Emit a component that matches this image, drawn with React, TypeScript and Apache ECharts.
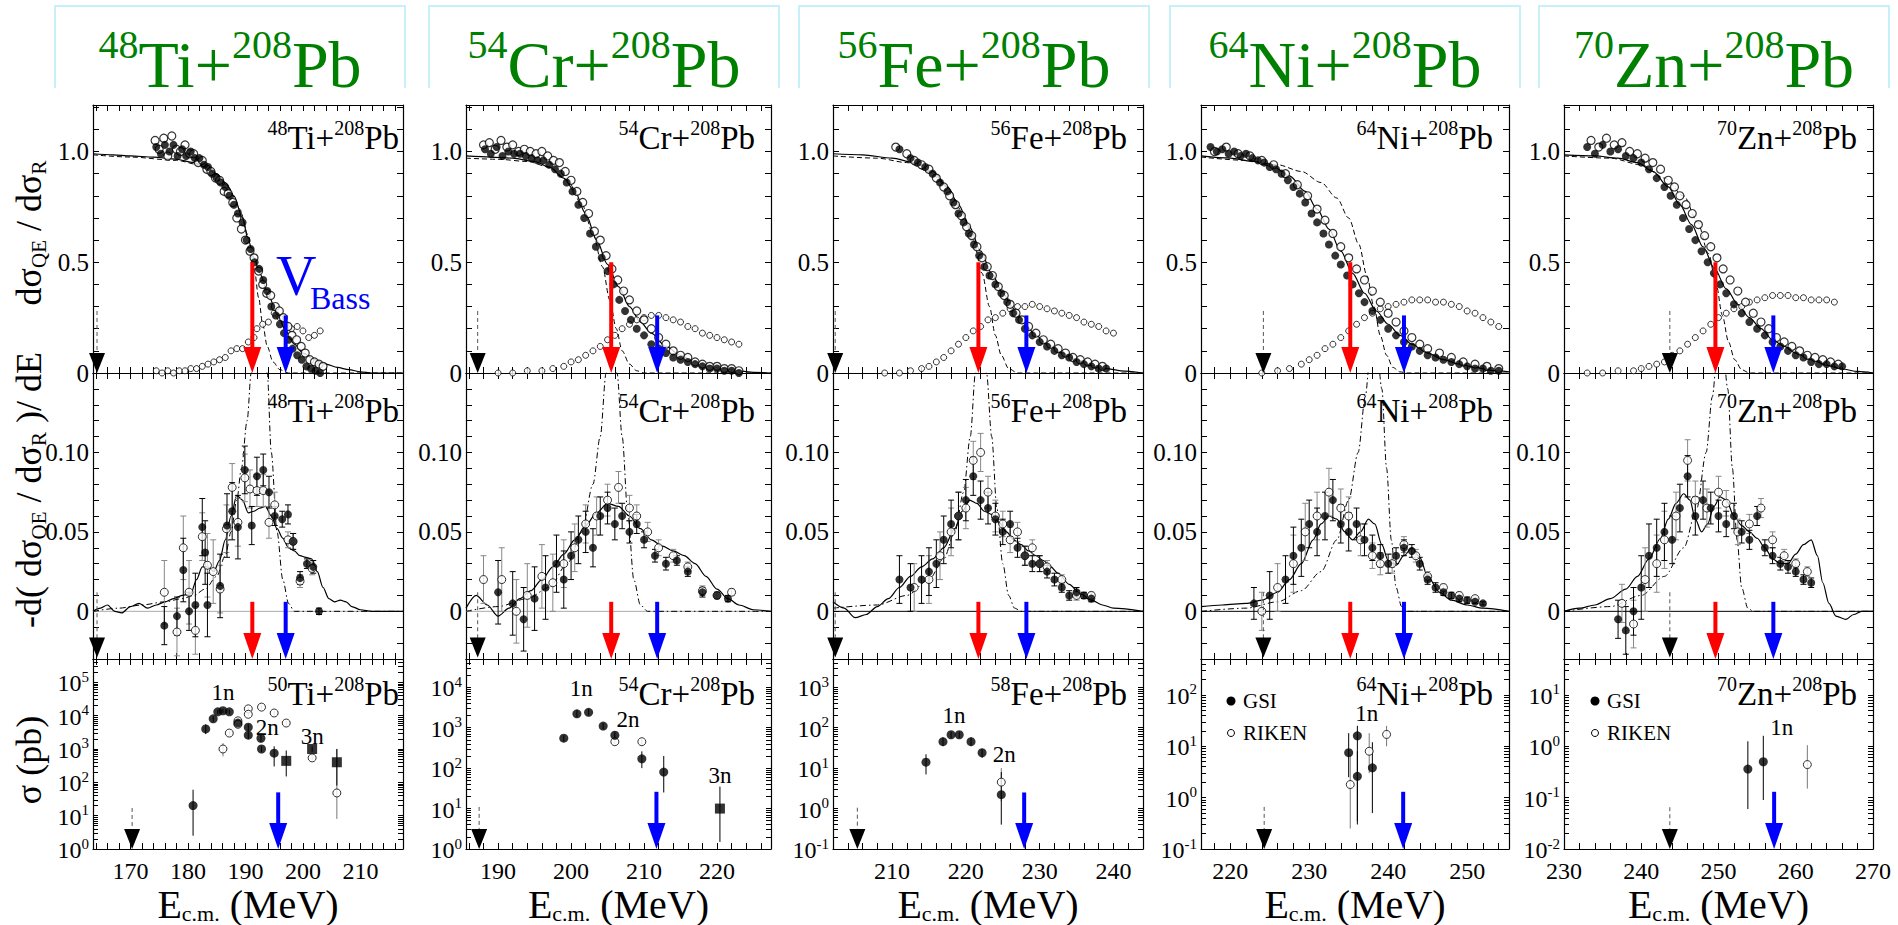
import React, { useEffect, useRef } from 'react';
import * as echarts from 'echarts';

const FONT = 'Liberation Serif';

// ---------- layout ----------
const COL_LEFT = [93, 466, 833, 1201, 1564];
const COL_WIDTH = [310, 305, 310, 308, 309];
const ROW_TOP = [105, 373, 659];
const ROW_BOTTOM = [373, 659, 849];
const HEADER_BOX_LEFT = [55, 429, 799, 1170, 1539];
const HEADER_BOX_WIDTH = 350;

// ---------- axes ----------
const X_MIN = [163.5, 185.6, 202, 216.3, 230];
const X_MAX = [217.4, 227.4, 244, 255.3, 270];
const X_TICK_LABELS = [
  [170, 180, 190, 200, 210],
  [190, 200, 210, 220],
  [210, 220, 230, 240],
  [220, 230, 240, 250],
  [230, 240, 250, 260, 270],
];
const TOP_Y_LABELS = [0, 0.5, 1.0];
const MID_Y_LABELS = [0, 0.05, 0.1];
const XS_MIN = [1, 1, 0.1, 0.1, 0.01];
const XS_MAX = [5e5, 5e4, 5e3, 500, 50];

// ---------- titles ----------
const HEADER_MASS = ['48', '54', '56', '64', '70'];
const HEADER_EL = ['Ti', 'Cr', 'Fe', 'Ni', 'Zn'];
const XS_MASS = ['50', '54', '58', '64', '70'];

// ---------- arrows (energies, MeV) ----------
const RED_ARROW_E = [191.2, 205.5, 221.7, 235.2, 249.6];
const BLUE_ARROW_E = [197.0, 211.8, 228.2, 242.0, 257.1];
const BLUE_ARROW_E_XS = [195.7, 211.7, 227.9, 241.9, 257.2];
const BLUE_ARROW_XS_FROM = [50, 26, 2.5, 1.3, 0.13];
const BLACK_ARROW_E = [164.2, 187.2, 202.3, 224.2, 243.7];
const BLACK_ARROW_E_XS = [170.3, 187.4, 205.3, 224.3, 243.7];
const BLACK_ARROW_XS_FROM = [17, 11, 1.05, 0.66, 0.065];

// ================= 48Ti + 208Pb =================
const TI_TOP_FILLED = [[174.5,1.02],[175.3,0.99],[176,1.03],[176.8,1.0],[177.5,1.03],[178.2,0.98],[179,1.01],[179.7,0.98],[180.5,1.0],[181.2,0.97],[182,0.97],[182.8,0.94],[183.5,0.93],[184.2,0.9],[185,0.88],[185.7,0.86],[186.5,0.84],[187.2,0.8],[188,0.76],[188.7,0.72],[189.5,0.68],[190.2,0.6],[190.9,0.56],[191.6,0.5],[192.4,0.47],[193.1,0.42],[193.8,0.37],[194.5,0.3],[195.3,0.26],[196,0.22],[196.7,0.18],[197.5,0.15],[198.2,0.11],[199,0.08],[199.8,0.06],[200.6,0.03],[201.4,0.02],[202.2,0.01],[203,0.0]];
const TI_TOP_OPEN = [[174.3,1.05],[175,1.01],[175.8,1.06],[176.5,0.98],[177.2,1.07],[178,1.01],[178.7,1.0],[179.5,1.03],[180.3,0.99],[181,0.99],[181.8,0.95],[182.5,0.96],[183.3,0.92],[184,0.91],[184.8,0.88],[185.5,0.87],[186.3,0.82],[187,0.81],[187.8,0.77],[188.5,0.7],[189.3,0.65],[190,0.6],[190.8,0.55],[191.5,0.52],[192.3,0.46],[193,0.4],[193.7,0.36],[194.4,0.35],[195.2,0.3],[195.9,0.28],[196.6,0.25],[197.4,0.21],[198.1,0.17],[198.9,0.15],[199.7,0.12],[200.4,0.09],[201.2,0.06],[202,0.05],[202.8,0.04],[203.5,0.03]];
const TI_TOP_DIST = [[174.5,0.01],[175.5,0.0],[176.5,0.01],[177.5,0.0],[178.5,0.01],[179.5,0.01],[180.5,0.02],[181.5,0.02],[182.5,0.03],[183.5,0.04],[184.5,0.05],[185.5,0.06],[186.5,0.07],[187.5,0.1],[188.5,0.11],[189.5,0.11],[190.5,0.14],[191.5,0.16],[192,0.2],[193,0.22],[194,0.23],[195,0.27],[196,0.25],[197,0.22],[198,0.2],[199,0.21],[200,0.19],[201,0.16],[202,0.17],[203,0.19]];
const TI_TOP_SOLID = [[163.5,0.99],[167,0.985],[170,0.98],[174,0.975],[178,0.965],[181,0.95],[183,0.93],[185,0.9],[186.5,0.86],[188,0.8],[189.5,0.7],[190.5,0.6],[191.5,0.52],[192.5,0.45],[194,0.35],[195.5,0.27],[197,0.19],[198.5,0.13],[200,0.09],[202,0.06],[204,0.04],[206,0.025],[208,0.015],[210,0.005],[212,0.0],[217.4,0.0]];
const TI_TOP_DASH = [[163.5,0.985],[170,0.975],[178,0.96],[182,0.94],[185,0.9],[187,0.84],[189,0.74],[190.5,0.62],[191.5,0.48],[192.3,0.34],[193,0.22],[193.8,0.12],[194.8,0.05],[196,0.015],[197.5,0.0],[217.4,0.0]];
const TI_MID_FILLED = [[175.9,-0.009,0.012],[178.1,-0.003,0.012],[179.2,0.026,0.02],[180.2,0.0,0.012],[181.3,0.004,0.02],[182.5,0.053,0.018],[183,0.037,0.02],[183.4,0.004,0.02],[185.6,0.016,0.02],[186.8,0.054,0.02],[187.7,0.063,0.018],[188.7,0.053,0.02],[189.9,0.089,0.015],[191.1,0.054,0.012],[192,0.085,0.012],[193.1,0.089,0.01],[194.1,0.075,0.01],[195.1,0.06,0.006],[196.4,0.058,0.005],[197.4,0.061,0.006],[198.3,0.044,0.005],[199.5,0.021,0.004],[200.7,0.03,0.003],[201.8,0.028,0.004],[202.8,0.0,0.002]];
const TI_MID_OPEN = [[175.9,0.012,0.02],[178.1,-0.013,0.015],[179.2,0.04,0.02],[180.2,0.012,0.02],[181.3,-0.012,0.015],[182.5,0.047,0.015],[183.4,0.029,0.02],[184.4,0.025,0.02],[185.6,0.014,0.015],[186.7,0.052,0.015],[187.7,0.078,0.015],[188.7,0.056,0.015],[189.9,0.084,0.015],[190.8,0.077,0.012],[192,0.076,0.01],[193.1,0.076,0.01],[194.1,0.056,0.01],[195.1,0.067,0.008],[197.4,0.045,0.005],[198.3,0.044,0.005],[199.5,0.019,0.004],[201.6,0.027,0.004]];
const TI_MID_SOLID = [[163.5,0.0],[164.8,0.002],[166,0.004],[167.3,0.0],[168.5,-0.001],[170,0.003],[171.5,0.005],[173,0.002],[174.5,0.004],[176,0.006],[177.5,0.008],[179,0.01],[180.5,0.011],[181.5,0.02],[182.5,0.028],[183.5,0.028],[184.5,0.025],[185.5,0.032],[186.5,0.045],[187.5,0.06],[188.5,0.073],[189.5,0.07],[190.5,0.062],[191.5,0.063],[192.5,0.065],[193.5,0.066],[194.5,0.06],[195.5,0.052],[196.5,0.046],[197.5,0.04],[198.5,0.038],[199.5,0.035],[200.5,0.034],[201.5,0.033],[202.5,0.025],[203.5,0.015],[204.5,0.008],[205.5,0.006],[206.5,0.007],[207.5,0.006],[208.5,0.003],[210,0.001],[212,0.0],[217.4,0.0]];
const TI_MID_DASH = [[163.5,0.0],[168,0.002],[172,0.004],[176,0.006],[179,0.008],[181,0.01],[183,0.014],[185,0.022],[186.5,0.035],[187.5,0.05],[188.5,0.07],[189.3,0.09],[190.3,0.12],[191,0.15],[192.3,0.2],[193.8,0.15],[194.5,0.1],[195.5,0.05],[196.5,0.02],[197.5,0.005],[198.5,0.0],[217.4,0.0]];
const TI_XS_FILLED = [[180.9,20,2.5,60],[183.1,4000,2800,5500],[184.4,8000,6500,9500],[185.2,13000,11000,15000],[186.1,14000,12000,16000],[187.2,13000,11000,15000],[188.7,6000,5000,7000],[190.5,4500,3500,5500],[190.5,2600,2000,3200],[192.7,2100,1600,2700],[192.8,1000,800,1200],[195,750,300,1200]];
const TI_XS_SQUARE = [[197.1,440,150,900],[201.6,1000,800,1200],[205.9,400,80,1000]];
const TI_XS_OPEN = [[186.1,1000,600,1500],[187.2,3000,2500,3500],[188.7,7000,6000,8000],[188.7,5500,5000,6000],[190.5,16000,14000,18000],[190.5,11000,10000,12000],[192.8,18000,16000,20000],[195,12000,10000,14000],[197.1,6000,5000,7000],[201.6,540,450,650],[205.9,48,8,1000]];
const TI_XS_LABELS = [[186.1, 50000, '1n'], [193.8, 4300, '2n'], [201.6, 2300, '3n']];

// ================= 54Cr + 208Pb =================
const CR_TOP_FILLED = [[188.2,1.01],[189,0.99],[189.8,1.02],[190.6,0.98],[191.4,1.0],[192.2,0.99],[193,0.99],[193.8,0.98],[194.6,0.97],[195.4,0.96],[196.2,0.96],[197,0.94],[197.8,0.92],[198.6,0.9],[199.4,0.86],[200.2,0.82],[201,0.76],[201.8,0.7],[202.6,0.63],[203.4,0.57],[204.2,0.52],[205,0.46],[205.8,0.4],[206.6,0.33],[207.4,0.28],[208.2,0.24],[209,0.2],[210,0.17],[211,0.13],[212,0.11],[213,0.09],[214,0.07],[215,0.06],[216,0.05],[217,0.04],[218,0.03],[219,0.02],[220,0.02],[221,0.01],[222,0.01],[223,0.0]];
const CR_TOP_OPEN = [[188,1.03],[188.8,1.04],[189.6,1.01],[190.4,1.05],[191.2,1.02],[192,1.03],[192.8,1.0],[193.6,1.01],[194.4,1.0],[195.2,0.99],[196,1.0],[196.8,0.98],[197.6,0.96],[198.4,0.95],[199.2,0.91],[200,0.87],[200.8,0.82],[201.6,0.77],[202.4,0.72],[203.2,0.64],[204,0.6],[204.8,0.53],[205.6,0.47],[206.4,0.42],[207.2,0.37],[208,0.33],[209,0.28],[210,0.24],[211,0.2],[212,0.16],[213,0.13],[214,0.1],[215,0.08],[216,0.07],[217,0.05],[218,0.04],[219,0.03],[220,0.03],[221,0.02],[222,0.02],[223,0.01]];
const CR_TOP_DIST = [[190,0.0],[192,0.0],[194,0.01],[196,0.01],[197.5,0.02],[199,0.03],[200,0.05],[201,0.06],[202,0.08],[203,0.1],[204,0.12],[205,0.15],[206,0.17],[207,0.2],[208,0.22],[209,0.24],[210,0.25],[211,0.26],[212,0.26],[213,0.25],[214,0.24],[215,0.23],[216,0.21],[217,0.2],[218,0.18],[219,0.17],[220,0.16],[221,0.15],[222,0.14],[223,0.13]];
const CR_TOP_SOLID = [[185.6,0.98],[189,0.975],[192,0.97],[195,0.955],[197,0.93],[199,0.88],[200.5,0.82],[202,0.72],[203.5,0.6],[205,0.49],[206.5,0.39],[208,0.3],[209.5,0.23],[211,0.18],[213,0.12],[215,0.08],[217,0.05],[219,0.03],[221,0.02],[223,0.01],[225,0.003],[227.4,0.0]];
const CR_TOP_DASH = [[185.6,0.97],[190,0.965],[194,0.955],[197,0.93],[199.5,0.87],[201.5,0.76],[203,0.63],[204.3,0.48],[205.3,0.33],[206.2,0.2],[207,0.1],[208,0.04],[209,0.01],[210,0.0],[227.4,0.0]];
const CR_MID_FILLED = [[190,0.012,0.02],[192,0.005,0.02],[193.5,-0.005,0.02],[195,0.008,0.02],[196.5,0.015,0.02],[198,0.03,0.018],[199,0.02,0.018],[200,0.035,0.015],[201,0.045,0.015],[202,0.05,0.013],[203,0.04,0.012],[204,0.06,0.012],[205,0.065,0.01],[206,0.055,0.01],[207,0.06,0.008],[208,0.05,0.007],[209,0.055,0.006],[210,0.045,0.005],[211.5,0.035,0.004],[213,0.03,0.004],[214.5,0.032,0.003],[216,0.025,0.003],[218,0.012,0.003],[220,0.01,0.002],[221.5,0.008,0.002]];
const CR_MID_OPEN = [[188,0.02,0.015],[190.5,0.02,0.02],[192.5,0.0,0.02],[194,0.01,0.02],[196,0.022,0.02],[197.5,0.018,0.018],[199,0.03,0.015],[200.5,0.04,0.015],[202,0.055,0.012],[203.5,0.06,0.012],[205,0.07,0.01],[206.5,0.078,0.01],[208,0.065,0.008],[209,0.06,0.007],[210.5,0.05,0.006],[212,0.04,0.005],[214,0.035,0.004],[216,0.028,0.003],[218,0.013,0.003],[220,0.01,0.002],[222,0.012,0.002]];
const CR_MID_SOLID = [[185.6,0.002],[187,0.01],[188.5,0.004],[190,-0.003],[191.5,0.002],[193,0.008],[194.5,0.013],[196,0.02],[197.5,0.028],[199,0.036],[200.5,0.045],[202,0.054],[203.5,0.062],[205,0.068],[206.5,0.066],[208,0.06],[209.5,0.052],[211,0.045],[212.5,0.041],[214,0.038],[215.5,0.035],[217,0.03],[218.5,0.022],[220,0.014],[221.5,0.008],[223,0.004],[225,0.001],[227.4,0.0]];
const CR_MID_DASH = [[185.6,0.0],[190,0.003],[194,0.008],[197,0.015],[199.5,0.03],[201.5,0.05],[203,0.08],[204,0.11],[204.8,0.15],[205.5,0.17],[206.3,0.15],[207,0.11],[207.8,0.06],[208.6,0.02],[209.5,0.004],[210.5,0.0],[227.4,0.0]];
const CR_XS_FILLED = [[199.0,550,450,650],[200.8,2200,1800,2700],[202.4,2400,2000,2900],[204.4,1100,900,1300],[206,650,500,800],[209.7,170,100,260],[212.7,80,25,200]];
const CR_XS_SQUARE = [[220.4,10,1.5,35]];
const CR_XS_OPEN = [[206,450,380,520],[209.7,450,380,520]];
const CR_XS_LABELS = [[201.4, 9300, '1n'], [207.8, 1600, '2n'], [220.4, 66, '3n']];

// ================= 56Fe + 208Pb =================
const FE_TOP_FILLED = [[211,1.01],[212.5,0.97],[213.5,0.95],[214.5,0.93],[215.5,0.9],[216.5,0.86],[217.5,0.82],[218.3,0.77],[219,0.72],[219.7,0.68],[220.4,0.63],[221.1,0.58],[221.8,0.53],[222.5,0.48],[223.2,0.44],[224,0.4],[224.8,0.36],[225.6,0.32],[226.4,0.27],[227.2,0.24],[228,0.2],[229,0.17],[230,0.14],[231,0.12],[232,0.1],[233,0.08],[234,0.07],[235,0.05],[236,0.04],[237,0.03],[238,0.02],[239,0.02]];
const FE_TOP_OPEN = [[210.5,1.02],[212,0.99],[213,0.96],[214,0.94],[215,0.92],[216,0.88],[217,0.84],[217.8,0.8],[218.6,0.76],[219.4,0.71],[220.1,0.66],[220.8,0.62],[221.5,0.57],[222.2,0.52],[222.9,0.48],[223.6,0.44],[224.4,0.39],[225.2,0.35],[226,0.31],[226.8,0.27],[227.6,0.24],[228.5,0.21],[229.5,0.18],[230.5,0.15],[231.5,0.13],[232.5,0.11],[233.5,0.09],[234.5,0.07],[235.5,0.06],[236.5,0.05],[237.5,0.04],[238.5,0.03]];
const FE_TOP_DIST = [[209,0.0],[211,0.0],[212.5,0.01],[214,0.02],[215,0.03],[216,0.05],[217,0.07],[218,0.1],[219,0.13],[220,0.16],[221,0.19],[222,0.21],[223,0.24],[224,0.25],[225,0.27],[226,0.29],[227,0.3],[228,0.3],[229,0.31],[230,0.3],[231,0.29],[232,0.28],[233,0.27],[234,0.26],[235,0.25],[236,0.23],[237,0.22],[238,0.21],[239,0.19],[240,0.18]];
const FE_TOP_SOLID = [[202,0.99],[206,0.985],[210,0.97],[213,0.95],[215.5,0.91],[217.5,0.84],[219,0.76],[220.5,0.66],[222,0.55],[223.5,0.45],[225,0.36],[226.5,0.29],[228,0.22],[229.5,0.17],[231,0.13],[233,0.09],[235,0.06],[237,0.035],[239,0.02],[241,0.01],[244,0.0]];
const FE_TOP_DASH = [[202,0.98],[208,0.97],[212,0.95],[215,0.91],[217.5,0.84],[219.5,0.73],[221,0.6],[222.2,0.45],[223.2,0.3],[224,0.17],[224.8,0.08],[225.8,0.02],[227,0.0],[244,0.0]];
const FE_MID_FILLED = [[211,0.02,0.015],[212.5,0.015,0.015],[214,0.02,0.015],[215,0.025,0.015],[216,0.03,0.015],[217,0.045,0.015],[218,0.055,0.015],[219,0.06,0.015],[220,0.07,0.013],[221,0.085,0.012],[222,0.07,0.012],[223,0.065,0.01],[224,0.058,0.01],[225,0.05,0.008],[226,0.055,0.008],[227,0.04,0.006],[228,0.035,0.006],[229,0.03,0.005],[230,0.03,0.005],[231,0.025,0.004],[232,0.02,0.004],[233,0.015,0.003],[234,0.01,0.003],[235,0.012,0.003],[236,0.01,0.002],[237,0.008,0.002]];
const FE_MID_OPEN = [[213,0.015,0.015],[215,0.02,0.015],[216.5,0.035,0.015],[218,0.05,0.015],[219,0.06,0.015],[220,0.065,0.013],[221,0.095,0.012],[222,0.1,0.012],[223,0.075,0.01],[224,0.06,0.01],[225,0.055,0.008],[226,0.045,0.008],[227,0.05,0.006],[228,0.035,0.006],[229,0.04,0.005],[230,0.03,0.005],[231,0.028,0.004],[233,0.02,0.003],[235,0.01,0.003],[237,0.01,0.002]];
const FE_MID_SOLID = [[202,0.006],[203.5,0.002],[205,-0.004],[206.5,-0.002],[208,0.003],[209.5,0.008],[211,0.015],[212.5,0.022],[214,0.028],[215.5,0.033],[217,0.04],[218.5,0.052],[219.5,0.063],[220.5,0.07],[221.5,0.068],[222.5,0.063],[223.5,0.061],[224.5,0.056],[225.5,0.05],[226.5,0.045],[227.5,0.042],[228.5,0.038],[229.5,0.035],[230.5,0.032],[231.5,0.028],[232.5,0.024],[234,0.017],[235.5,0.011],[237,0.007],[238.5,0.004],[240,0.002],[244,0.0]];
const FE_MID_DASH = [[202,0.002],[208,0.004],[212,0.01],[215,0.02],[217,0.033],[218.5,0.05],[219.7,0.075],[220.6,0.11],[221.3,0.15],[222,0.17],[222.8,0.15],[223.5,0.11],[224.2,0.065],[225,0.03],[225.8,0.01],[226.6,0.002],[227.5,0.0],[244,0.0]];
const FE_XS_FILLED = [[214.6,14,7,22],[216.9,45,35,58],[218,67,55,80],[219.1,67,55,80],[220.7,45,35,58],[222.2,24,18,30],[224.8,2.2,0.4,8]];
const FE_XS_SQUARE = [];
const FE_XS_OPEN = [[224.8,4.5,1.5,10]];
const FE_XS_LABELS = [[218.4, 200, '1n'], [225.2, 22, '2n']];

// ================= 64Ni + 208Pb =================
const NI_TOP_FILLED = [[217.5,1.02],[218.3,1.0],[219,1.01],[219.8,0.99],[220.5,1.0],[221.3,0.98],[222,0.99],[222.8,0.97],[223.5,0.96],[224.3,0.95],[225,0.93],[225.8,0.92],[226.5,0.9],[227.3,0.87],[228,0.84],[228.8,0.81],[229.5,0.77],[230.3,0.72],[231,0.68],[231.8,0.63],[232.5,0.58],[233.3,0.53],[234,0.49],[234.8,0.44],[235.5,0.4],[236.3,0.36],[237,0.32],[238,0.28],[239,0.24],[240,0.2],[241,0.17],[242,0.14],[243,0.12],[244,0.1],[245,0.08],[246,0.07],[247,0.06],[248,0.05],[249,0.04],[250,0.03],[251,0.02],[252,0.02],[253,0.01],[254,0.01]];
const NI_TOP_OPEN = [[218,1.0],[219.5,1.02],[221,0.99],[222.5,0.98],[224,0.96],[225.5,0.94],[227,0.9],[228.5,0.85],[229.8,0.8],[231,0.74],[232,0.69],[233,0.63],[234,0.57],[235,0.52],[236,0.47],[237,0.42],[238,0.37],[239,0.32],[240,0.27],[241,0.23],[242,0.19],[243,0.16],[244,0.13],[245,0.11],[246.5,0.09],[248,0.07],[249.5,0.05],[251,0.04],[252.5,0.03],[254,0.02]];
const NI_TOP_DIST = [[224,0.0],[226,0.01],[227.5,0.02],[229,0.04],[230,0.06],[231,0.08],[232,0.11],[233,0.13],[234,0.16],[235,0.19],[236,0.22],[237,0.25],[238,0.27],[239,0.29],[240,0.3],[241,0.31],[242,0.32],[243,0.33],[244,0.33],[245,0.33],[246,0.32],[247,0.32],[248,0.31],[249,0.3],[250,0.28],[251,0.27],[252,0.25],[253,0.23],[254,0.21]];
const NI_TOP_SOLID = [[216.3,0.98],[220,0.97],[223,0.955],[225.5,0.93],[227.5,0.89],[229.5,0.82],[231,0.74],[232.5,0.65],[234,0.55],[235.5,0.45],[237,0.36],[238.5,0.28],[240,0.22],[241.5,0.17],[243,0.13],[245,0.09],[247,0.06],[249,0.04],[251,0.025],[253,0.012],[255.3,0.005]];
const NI_TOP_DASH = [[216.3,0.975],[222,0.96],[226,0.94],[229,0.91],[231.5,0.86],[233.5,0.79],[235,0.7],[236.3,0.58],[237.3,0.44],[238.2,0.3],[239,0.17],[239.8,0.08],[240.6,0.025],[241.5,0.005],[242.5,0.0],[255.3,0.0]];
const NI_MID_FILLED = [[223,0.005,0.01],[225,0.01,0.015],[227,0.02,0.015],[228,0.035,0.018],[229,0.04,0.018],[230,0.055,0.015],[231,0.05,0.015],[232,0.06,0.015],[233,0.07,0.013],[234,0.055,0.012],[235,0.05,0.012],[236,0.055,0.01],[237,0.045,0.01],[238,0.04,0.008],[239,0.035,0.007],[240,0.03,0.006],[241,0.035,0.005],[242,0.04,0.005],[243,0.038,0.004],[244,0.03,0.004],[245,0.02,0.003],[246,0.015,0.003],[247,0.012,0.002],[248,0.01,0.002],[249,0.008,0.002],[250,0.007,0.002],[251,0.006,0.001],[252,0.005,0.001]];
const NI_MID_OPEN = [[224,0.0,0.012],[226,0.015,0.015],[228,0.03,0.018],[229.5,0.05,0.018],[231,0.06,0.015],[232.5,0.075,0.015],[234,0.065,0.012],[235,0.06,0.012],[236.5,0.045,0.01],[238,0.035,0.008],[239,0.03,0.007],[240.5,0.03,0.006],[242,0.042,0.005],[243.5,0.035,0.004],[245,0.022,0.003],[247,0.015,0.002],[249,0.01,0.002],[251,0.008,0.001]];
const NI_MID_SOLID = [[216.3,0.003],[219,0.004],[222,0.005],[224,0.007],[226,0.012],[227.5,0.02],[229,0.03],[230.5,0.045],[231.5,0.055],[232.5,0.06],[233.5,0.058],[234.5,0.05],[235.5,0.045],[236.5,0.05],[237.5,0.058],[238.3,0.055],[239.2,0.042],[240,0.032],[241,0.029],[242,0.035],[243,0.04],[244,0.034],[245,0.022],[246.5,0.012],[248,0.007],[250,0.004],[252,0.002],[255.3,0.0]];
const NI_MID_DASH = [[216.3,0.0],[222,0.002],[226,0.006],[229,0.013],[231.5,0.025],[233.5,0.045],[235,0.07],[236.2,0.1],[237.1,0.135],[237.7,0.16],[238.5,0.17],[239.2,0.14],[239.8,0.09],[240.4,0.045],[241,0.015],[241.7,0.003],[242.5,0.0],[255.3,0.0]];
const NI_XS_FILLED = [[235,7.5,2.5,18],[236.1,16,0.35,25],[236.1,2.6,0.3,8],[238,3.8,0.5,12]];
const NI_XS_SQUARE = [];
const NI_XS_OPEN = [[235.2,1.8,0.25,7],[237.6,8,3,18],[239.8,17,10,25]];
const NI_XS_LABELS = [[237.3, 44, '1n']];

// ================= 70Zn + 208Pb =================
const ZN_TOP_FILLED = [[233,1.02],[234,0.99],[235,1.03],[236,1.0],[237,1.01],[238,0.98],[239,0.97],[240,0.95],[241,0.92],[242,0.88],[243,0.84],[243.8,0.8],[244.6,0.76],[245.4,0.7],[246.2,0.65],[247,0.6],[247.8,0.55],[248.6,0.5],[249.4,0.45],[250.2,0.4],[251,0.36],[252,0.31],[253,0.27],[254,0.23],[255,0.2],[256,0.17],[257,0.14],[258,0.12],[259,0.1],[260,0.08],[261,0.07],[262,0.05],[263,0.04],[264,0.04],[265,0.03],[266,0.03]];
const ZN_TOP_OPEN = [[233.5,1.05],[234.5,1.02],[235.5,1.06],[236.5,1.03],[237.5,1.04],[238.5,1.0],[239.5,0.99],[240.5,0.97],[241.5,0.95],[242.5,0.92],[243.5,0.87],[244.3,0.84],[245,0.8],[245.8,0.76],[246.6,0.72],[247.4,0.67],[248.2,0.62],[249,0.57],[249.8,0.52],[250.6,0.47],[251.5,0.42],[252.5,0.37],[253.5,0.32],[254.5,0.27],[255.5,0.23],[256.5,0.2],[257.5,0.16],[258.5,0.14],[259.5,0.12],[260.5,0.1],[261.5,0.08],[262.5,0.07],[263.5,0.06],[264.5,0.05],[265.5,0.04]];
const ZN_TOP_DIST = [[233,0.0],[235,0.0],[237,0.01],[239,0.01],[240,0.02],[241,0.03],[242,0.04],[243,0.05],[244,0.08],[245,0.1],[246,0.13],[247,0.16],[248,0.19],[249,0.22],[250,0.25],[251,0.27],[252,0.29],[253,0.3],[254,0.32],[255,0.33],[256,0.34],[257,0.35],[258,0.35],[259,0.35],[260,0.34],[261,0.34],[262,0.33],[263,0.33],[264,0.33],[265,0.32]];
const ZN_TOP_SOLID = [[230,0.985],[234,0.98],[237,0.97],[239.5,0.95],[241.5,0.91],[243.5,0.84],[245,0.76],[246.5,0.67],[248,0.57],[249.5,0.47],[251,0.38],[252.5,0.31],[254,0.25],[255.5,0.2],[257,0.15],[258.5,0.12],[260,0.09],[262,0.06],[264,0.035],[266,0.018],[268,0.007],[270,0.0]];
const ZN_TOP_DASH = [[230,0.98],[236,0.97],[240,0.94],[243,0.88],[245.5,0.8],[247.3,0.68],[248.7,0.54],[249.7,0.4],[250.5,0.26],[251.3,0.14],[252.1,0.06],[253,0.015],[254,0.0],[270,0.0]];
const ZN_MID_FILLED = [[237,-0.005,0.012],[238,-0.012,0.015],[239,0.0,0.015],[240,0.015,0.02],[241,0.035,0.02],[242,0.04,0.018],[243,0.05,0.018],[244,0.045,0.015],[245,0.065,0.015],[246,0.085,0.013],[247,0.06,0.012],[248,0.07,0.012],[249,0.065,0.01],[250,0.06,0.01],[251,0.055,0.008],[252,0.06,0.008],[253,0.05,0.007],[254,0.045,0.006],[255,0.06,0.006],[256,0.04,0.005],[257,0.035,0.005],[258,0.03,0.004],[259,0.028,0.004],[260,0.025,0.003],[261,0.02,0.003],[262,0.018,0.003]];
const ZN_MID_OPEN = [[237.5,0.005,0.012],[239,-0.008,0.015],[240.5,0.02,0.02],[242,0.03,0.018],[243,0.045,0.018],[244.5,0.06,0.015],[246,0.095,0.013],[247,0.07,0.012],[248.5,0.065,0.012],[250,0.075,0.01],[251,0.068,0.008],[252.5,0.05,0.008],[254,0.055,0.006],[255.5,0.065,0.006],[257,0.045,0.005],[258.5,0.035,0.004],[260,0.03,0.003],[261.5,0.025,0.003]];
const ZN_MID_SOLID = [[230,0.0],[232,0.002],[234,0.004],[236,0.008],[238,0.014],[239.5,0.022],[241,0.033],[242.5,0.046],[243.5,0.058],[244.5,0.068],[245.5,0.074],[246.3,0.07],[247,0.058],[247.8,0.05],[248.6,0.055],[249.4,0.066],[250.2,0.072],[251,0.07],[252,0.06],[253,0.054],[254,0.05],[255,0.046],[256,0.04],[257,0.033],[258,0.03],[259,0.03],[260,0.036],[261,0.042],[262,0.045],[262.8,0.035],[263.5,0.018],[264.3,0.005],[265.2,-0.003],[266.5,-0.005],[267.5,-0.002],[268.5,0.0],[270,0.0]];
const ZN_MID_DASH = [[230,0.0],[236,0.003],[240,0.01],[243,0.022],[245.5,0.04],[247.2,0.065],[248.4,0.1],[249.2,0.135],[249.8,0.16],[250.5,0.17],[251.2,0.14],[251.8,0.09],[252.4,0.045],[253,0.015],[253.8,0.002],[254.5,0.0],[270,0.0]];
const ZN_XS_FILLED = [[253.8,0.36,0.06,1.25],[255.8,0.5,0.09,1.6]];
const ZN_XS_SQUARE = [];
const ZN_XS_OPEN = [[261.5,0.44,0.15,1.05]];
const ZN_XS_LABELS = [[258.2, 2.3, '1n']];

const COLS = [
  { topFilled: TI_TOP_FILLED, topOpen: TI_TOP_OPEN, topDist: TI_TOP_DIST, topSolid: TI_TOP_SOLID, topDash: TI_TOP_DASH, midFilled: TI_MID_FILLED, midOpen: TI_MID_OPEN, midSolid: TI_MID_SOLID, midDash: TI_MID_DASH, xsFilled: TI_XS_FILLED, xsSquare: TI_XS_SQUARE, xsOpen: TI_XS_OPEN, xsLabels: TI_XS_LABELS },
  { topFilled: CR_TOP_FILLED, topOpen: CR_TOP_OPEN, topDist: CR_TOP_DIST, topSolid: CR_TOP_SOLID, topDash: CR_TOP_DASH, midFilled: CR_MID_FILLED, midOpen: CR_MID_OPEN, midSolid: CR_MID_SOLID, midDash: CR_MID_DASH, xsFilled: CR_XS_FILLED, xsSquare: CR_XS_SQUARE, xsOpen: CR_XS_OPEN, xsLabels: CR_XS_LABELS },
  { topFilled: FE_TOP_FILLED, topOpen: FE_TOP_OPEN, topDist: FE_TOP_DIST, topSolid: FE_TOP_SOLID, topDash: FE_TOP_DASH, midFilled: FE_MID_FILLED, midOpen: FE_MID_OPEN, midSolid: FE_MID_SOLID, midDash: FE_MID_DASH, xsFilled: FE_XS_FILLED, xsSquare: FE_XS_SQUARE, xsOpen: FE_XS_OPEN, xsLabels: FE_XS_LABELS },
  { topFilled: NI_TOP_FILLED, topOpen: NI_TOP_OPEN, topDist: NI_TOP_DIST, topSolid: NI_TOP_SOLID, topDash: NI_TOP_DASH, midFilled: NI_MID_FILLED, midOpen: NI_MID_OPEN, midSolid: NI_MID_SOLID, midDash: NI_MID_DASH, xsFilled: NI_XS_FILLED, xsSquare: NI_XS_SQUARE, xsOpen: NI_XS_OPEN, xsLabels: NI_XS_LABELS },
  { topFilled: ZN_TOP_FILLED, topOpen: ZN_TOP_OPEN, topDist: ZN_TOP_DIST, topSolid: ZN_TOP_SOLID, topDash: ZN_TOP_DASH, midFilled: ZN_MID_FILLED, midOpen: ZN_MID_OPEN, midSolid: ZN_MID_SOLID, midDash: ZN_MID_DASH, xsFilled: ZN_XS_FILLED, xsSquare: ZN_XS_SQUARE, xsOpen: ZN_XS_OPEN, xsLabels: ZN_XS_LABELS },
];

// ---------- helpers ----------
function steps(a: number, b: number, step: number) {
  const out: number[] = [];
  const n = Math.round((b - a) / step);
  for (let i = 0; i <= n; i++) out.push(+(a + i * step).toFixed(4));
  return out;
}
function xTicks(c: number) {
  return steps(Math.ceil(X_MIN[c] / 2) * 2, Math.floor(X_MAX[c] / 2) * 2, 2);
}
const TOP_Y_TICKS = steps(0, 1.2, 0.1);
const MID_Y_TICKS = steps(-0.03, 0.15, 0.01);
function logDecades(c: number) {
  const out: number[] = [];
  for (let e = Math.round(Math.log10(XS_MIN[c])); Math.pow(10, e) <= XS_MAX[c]; e++) out.push(+Math.pow(10, e).toPrecision(3));
  return out;
}
function logMinor(c: number) {
  const out: number[] = [];
  for (let e = Math.round(Math.log10(XS_MIN[c])); Math.pow(10, e) <= XS_MAX[c]; e++) {
    for (let k = 1; k <= 9; k++) {
      const v = +(k * Math.pow(10, e)).toPrecision(3);
      if (v >= XS_MIN[c] && v <= XS_MAX[c]) out.push(v);
    }
  }
  return out;
}

const LINE = { color: '#000', width: 1.2 };
const TICK = { color: '#000', width: 1 };

function xAxisCfg(gi: number, c: number, r: number, mirror: boolean) {
  return {
    gridIndex: gi, type: 'value', position: mirror ? 'top' : 'bottom',
    min: X_MIN[c], max: X_MAX[c], silent: true,
    axisLine: { show: true, onZero: false, lineStyle: LINE },
    axisTick: { show: true, inside: true, length: 6, customValues: xTicks(c), lineStyle: TICK },
    axisLabel: { show: !mirror && r === 2, customValues: X_TICK_LABELS[c], color: '#000', fontSize: 24, fontFamily: FONT, margin: 10 },
    splitLine: { show: false },
  };
}

function yAxisCfg(gi: number, c: number, r: number, mirror: boolean) {
  const base: any = {
    gridIndex: gi, position: mirror ? 'right' : 'left', silent: true,
    axisLine: { show: true, onZero: false, lineStyle: LINE },
    splitLine: { show: false },
  };
  const lbl = { show: !mirror, color: '#000', fontSize: 25, fontFamily: FONT, margin: 4 };
  if (r === 0) {
    return { ...base, type: 'value', min: 0, max: 1.21,
      axisTick: { show: true, inside: true, length: 6, customValues: TOP_Y_TICKS, lineStyle: TICK },
      axisLabel: { ...lbl, customValues: TOP_Y_LABELS, formatter: (v: number) => (v === 0 ? '0' : v.toFixed(1)) } };
  }
  if (r === 1) {
    return { ...base, type: 'value', min: -0.03, max: 0.15,
      axisTick: { show: true, inside: true, length: 6, customValues: MID_Y_TICKS, lineStyle: TICK },
      axisLabel: { ...lbl, customValues: MID_Y_LABELS, formatter: (v: number) => (Math.abs(v) < 1e-9 ? '0' : v.toFixed(2)) } };
  }
  return { ...base, type: 'log', logBase: 10, min: XS_MIN[c], max: XS_MAX[c],
    axisTick: { show: true, inside: true, length: 5, customValues: logMinor(c), lineStyle: TICK },
    axisLabel: { ...lbl, customValues: logDecades(c),
      formatter: (v: number) => `{b|10}{s|${Math.round(Math.log10(v))}}`,
      rich: {
        b: { fontSize: 24, fontFamily: FONT, color: '#000', lineHeight: 26, verticalAlign: 'bottom' },
        s: { fontSize: 15, fontFamily: FONT, color: '#000', lineHeight: 15, verticalAlign: 'top' },
      } } };
}

function errSeries(g: number, data: number[][], color: string, cap: number) {
  return {
    type: 'custom', xAxisIndex: g * 2, yAxisIndex: g * 2, silent: true, z: 3,
    data, encode: { x: 0, y: 1 },
    renderItem: (_p: any, api: any) => {
      const x = api.value(0);
      const a = api.coord([x, api.value(2)]);
      const b = api.coord([x, api.value(3)]);
      const st = { stroke: color, lineWidth: 1 };
      return { type: 'group', children: [
        { type: 'line', shape: { x1: a[0], y1: a[1], x2: b[0], y2: b[1] }, style: st },
        { type: 'line', shape: { x1: a[0] - cap, y1: a[1], x2: a[0] + cap, y2: a[1] }, style: st },
        { type: 'line', shape: { x1: b[0] - cap, y1: b[1], x2: b[0] + cap, y2: b[1] }, style: st },
      ] };
    },
  };
}

function arrowSeries(g: number, data: number[][], color: string, lw: number, hw: number, hh: number, dashed: boolean) {
  return {
    type: 'custom', xAxisIndex: g * 2, yAxisIndex: g * 2, silent: true, z: 6,
    data, encode: { x: 0, y: 1 },
    renderItem: (_p: any, api: any) => {
      const x = api.value(0);
      const a = api.coord([x, api.value(1)]);
      const b = api.coord([x, api.value(2)]);
      return { type: 'group', children: [
        { type: 'line', shape: { x1: a[0], y1: a[1], x2: b[0], y2: b[1] - hh + 1 },
          style: { stroke: dashed ? '#555' : color, lineWidth: lw, lineDash: dashed ? [4, 3] : null } },
        { type: 'polygon', shape: { points: [[b[0] - hw / 2, b[1] - hh], [b[0] + hw / 2, b[1] - hh], [b[0], b[1]]] },
          style: { fill: color } },
      ] };
    },
  };
}

function textSeries(g: number, labels: any[], size: number) {
  return {
    type: 'custom', xAxisIndex: g * 2, yAxisIndex: g * 2, silent: true, z: 6,
    data: labels.map((l) => [l[0], l[1]]), encode: { x: 0, y: 1 },
    renderItem: (p: any, api: any) => {
      const pt = api.coord([api.value(0), api.value(1)]);
      return { type: 'text', x: pt[0], y: pt[1],
        style: { text: labels[p.dataIndex][2], fontSize: size, fontFamily: FONT, fill: '#000', align: 'center', verticalAlign: 'middle' } };
    },
  };
}

function isoRich(F: number, color: string) {
  return {
    b: { fontSize: F, fontFamily: FONT, fill: color, lineHeight: Math.round(F * 1.1), verticalAlign: 'bottom' },
    s: { fontSize: Math.round(F * 0.6), fontFamily: FONT, fill: color, lineHeight: Math.round(F * 0.6), verticalAlign: 'top' },
  };
}
function isoText(mass: string, el: string) {
  return `{s|${mass}}{b|${el}+}{s|208}{b|Pb}`;
}

function buildOption() {
  const grid: any[] = [];
  const xAxis: any[] = [];
  const yAxis: any[] = [];
  const series: any[] = [];
  const graphic: any[] = [];

  for (let c = 0; c < 5; c++) {
    for (let r = 0; r < 3; r++) {
      const gi = c * 3 + r;
      grid.push({ left: COL_LEFT[c], top: ROW_TOP[r], width: COL_WIDTH[c], height: ROW_BOTTOM[r] - ROW_TOP[r], containLabel: false, outerBoundsMode: 'none' });
      xAxis.push(xAxisCfg(gi, c, r, false));
      xAxis.push(xAxisCfg(gi, c, r, true));
      yAxis.push(yAxisCfg(gi, c, r, false));
      yAxis.push(yAxisCfg(gi, c, r, true));
    }
    const d: any = COLS[c];
    const gT = c * 3, gM = c * 3 + 1, gB = c * 3 + 2;
    const ax = (g: number) => ({ xAxisIndex: g * 2, yAxisIndex: g * 2 });
    const lineBase = { type: 'line', showSymbol: false, symbol: 'none', silent: true, smooth: 0.3, smoothMonotone: 'x', z: 2 };

    // ---- top panel ----
    series.push({ ...lineBase, ...ax(gT), data: d.topSolid, lineStyle: { color: '#000', width: 1.2 } });
    series.push({ ...lineBase, ...ax(gT), data: d.topDash, lineStyle: { color: '#000', width: 1, type: [5, 3] } });
    series.push({ type: 'scatter', ...ax(gT), data: d.topDist, symbol: 'circle', symbolSize: 6, silent: true, z: 3, itemStyle: { color: '#fff', borderColor: '#000', borderWidth: 1 } });
    series.push({ type: 'scatter', ...ax(gT), data: d.topOpen, symbol: 'circle', symbolSize: 8, silent: true, z: 3, itemStyle: { color: '#fff', borderColor: '#000', borderWidth: 1.2 } });
    series.push({ type: 'scatter', ...ax(gT), data: d.topFilled, symbol: 'circle', symbolSize: 8, silent: true, z: 4, itemStyle: { color: '#000' } });
    series.push(arrowSeries(gT, [[RED_ARROW_E[c], 0.5, 0]], '#ff0000', 4, 18, 26, false));
    series.push(arrowSeries(gT, [[BLUE_ARROW_E[c], 0.26, 0]], '#0000ff', 4, 18, 26, false));
    series.push(arrowSeries(gT, [[BLACK_ARROW_E[c], 0.28, 0]], '#000', 1, 16, 20, true));

    // ---- middle panel ----
    series.push({ ...lineBase, ...ax(gM), smooth: false, data: [[X_MIN[c], 0], [X_MAX[c], 0]], lineStyle: { color: c < 2 ? '#aaa' : '#000', width: 1 } });
    series.push({ ...lineBase, ...ax(gM), data: d.midSolid, lineStyle: { color: '#000', width: 1.2 } });
    series.push({ ...lineBase, ...ax(gM), data: d.midDash, lineStyle: { color: '#000', width: 1, type: [6, 3, 1.5, 3] } });
    series.push(errSeries(gM, d.midOpen.map((p: number[]) => [p[0], p[1], p[1] - p[2], p[1] + p[2]]), '#888', 3));
    series.push(errSeries(gM, d.midFilled.map((p: number[]) => [p[0], p[1], p[1] - p[2], p[1] + p[2]]), '#000', 3));
    series.push({ type: 'scatter', ...ax(gM), data: d.midOpen.map((p: number[]) => [p[0], p[1]]), symbol: 'circle', symbolSize: 8, silent: true, z: 4, itemStyle: { color: '#fff', borderColor: '#000', borderWidth: 1 } });
    series.push({ type: 'scatter', ...ax(gM), data: d.midFilled.map((p: number[]) => [p[0], p[1]]), symbol: 'circle', symbolSize: 8, silent: true, z: 5, itemStyle: { color: '#000' } });
    series.push(arrowSeries(gM, [[RED_ARROW_E[c], 0.006, -0.03]], '#ff0000', 4, 18, 26, false));
    series.push(arrowSeries(gM, [[BLUE_ARROW_E[c], 0.006, -0.03]], '#0000ff', 4, 18, 26, false));
    series.push(arrowSeries(gM, [[BLACK_ARROW_E[c], 0.012, -0.029]], '#000', 1, 16, 20, true));

    // ---- bottom panel ----
    series.push(errSeries(gB, d.xsOpen, '#777', 0));
    series.push(errSeries(gB, d.xsFilled, '#000', 0));
    series.push(errSeries(gB, d.xsSquare, '#000', 0));
    series.push({ type: 'scatter', ...ax(gB), data: d.xsOpen.map((p: number[]) => [p[0], p[1]]), symbol: 'circle', symbolSize: 8, silent: true, z: 4, itemStyle: { color: '#fff', borderColor: '#000', borderWidth: 1 } });
    series.push({ type: 'scatter', ...ax(gB), data: d.xsFilled.map((p: number[]) => [p[0], p[1]]), symbol: 'circle', symbolSize: 9, silent: true, z: 5, itemStyle: { color: '#000' } });
    series.push({ type: 'scatter', ...ax(gB), data: d.xsSquare.map((p: number[]) => [p[0], p[1]]), symbol: 'rect', symbolSize: 10, silent: true, z: 5, itemStyle: { color: '#000' } });
    series.push(textSeries(gB, d.xsLabels, 23));
    series.push(arrowSeries(gB, [[BLUE_ARROW_E_XS[c], BLUE_ARROW_XS_FROM[c], XS_MIN[c]]], '#0000ff', 4, 18, 26, false));
    series.push(arrowSeries(gB, [[BLACK_ARROW_E_XS[c], BLACK_ARROW_XS_FROM[c], XS_MIN[c]]], '#000', 1, 16, 20, true));

    // ---- graphics: header, labels, x-title ----
    const bl = HEADER_BOX_LEFT[c];
    graphic.push({ type: 'polyline', silent: true, shape: { points: [[bl, 88], [bl, 6], [bl + HEADER_BOX_WIDTH, 6], [bl + HEADER_BOX_WIDTH, 88]] }, style: { stroke: '#c6f1f9', lineWidth: 2, fill: null } });
    graphic.push({ type: 'text', silent: true, x: bl + HEADER_BOX_WIDTH / 2, y: 24,
      style: { text: isoText(HEADER_MASS[c], HEADER_EL[c]), rich: isoRich(66, '#008000'), fill: '#008000', fontFamily: FONT, align: 'center', verticalAlign: 'top' } });
    const right = COL_LEFT[c] + COL_WIDTH[c] - (c === 0 ? 4 : 16);
    graphic.push({ type: 'text', silent: true, x: right, y: 118, style: { text: isoText(HEADER_MASS[c], HEADER_EL[c]), rich: isoRich(33, '#000'), fill: '#000', fontFamily: FONT, align: 'right', verticalAlign: 'top' } });
    graphic.push({ type: 'text', silent: true, x: right, y: 391, style: { text: isoText(HEADER_MASS[c], HEADER_EL[c]), rich: isoRich(33, '#000'), fill: '#000', fontFamily: FONT, align: 'right', verticalAlign: 'top' } });
    graphic.push({ type: 'text', silent: true, x: right, y: 674, style: { text: isoText(XS_MASS[c], HEADER_EL[c]), rich: isoRich(33, '#000'), fill: '#000', fontFamily: FONT, align: 'right', verticalAlign: 'top' } });
    graphic.push({ type: 'text', silent: true, x: COL_LEFT[c] + COL_WIDTH[c] / 2, y: 884,
      style: { text: '{e|E}{s|c.m.}{e| (MeV)}', align: 'center', verticalAlign: 'top', fill: '#000', fontFamily: FONT,
        rich: { e: { fontSize: 40, fontFamily: FONT, fill: '#000', lineHeight: 40, verticalAlign: 'top' },
                s: { fontSize: 22, fontFamily: FONT, fill: '#000', lineHeight: 22, verticalAlign: 'bottom' } } } });
  }

  // legend GSI / RIKEN in Ni and Zn bottom panels
  const legendPos = [[1231, 701], [1595, 701]];
  legendPos.forEach(([lx, ly]) => {
    graphic.push({ type: 'circle', silent: true, shape: { cx: lx, cy: ly, r: 4.5 }, style: { fill: '#000' } });
    graphic.push({ type: 'text', silent: true, x: lx + 12, y: ly, style: { text: 'GSI', fontSize: 21, fontFamily: FONT, fill: '#000', align: 'left', verticalAlign: 'middle' } });
    graphic.push({ type: 'circle', silent: true, shape: { cx: lx, cy: ly + 32, r: 3.5 }, style: { fill: '#fff', stroke: '#000', lineWidth: 1 } });
    graphic.push({ type: 'text', silent: true, x: lx + 12, y: ly + 32, style: { text: 'RIKEN', fontSize: 21, fontFamily: FONT, fill: '#000', align: 'left', verticalAlign: 'middle' } });
  });

  // V_Bass
  graphic.push({ type: 'text', silent: true, x: 276, y: 276, style: { text: 'V', fontSize: 56, fontFamily: FONT, fill: '#0000ff', align: 'left', verticalAlign: 'middle' } });
  graphic.push({ type: 'text', silent: true, x: 310, y: 298, style: { text: 'Bass', fontSize: 32, fontFamily: FONT, fill: '#0000ff', align: 'left', verticalAlign: 'middle' } });

  // Row titles (rotated)
  const rowRich = {
    t: { fontSize: 36, fontFamily: FONT, fill: '#000', lineHeight: 38, verticalAlign: 'top' },
    s: { fontSize: 21, fontFamily: FONT, fill: '#000', lineHeight: 21, verticalAlign: 'bottom' },
  };
  graphic.push({ type: 'text', silent: true, x: 30, y: 233, rotation: Math.PI / 2, style: { text: '{t|dσ}{s|QE}{t| / dσ}{s|R}', rich: rowRich, fontFamily: FONT, align: 'center', verticalAlign: 'middle' } });
  graphic.push({ type: 'text', silent: true, x: 30, y: 490, rotation: Math.PI / 2, style: { text: '{t|-d( dσ}{s|QE}{t| / dσ}{s|R}{t| )/ dE}', rich: rowRich, fontFamily: FONT, align: 'center', verticalAlign: 'middle' } });
  graphic.push({ type: 'text', silent: true, x: 30, y: 760, rotation: Math.PI / 2, style: { text: '{t|σ (pb)}', rich: rowRich, fontFamily: FONT, align: 'center', verticalAlign: 'middle' } });

  return { animation: false, backgroundColor: '#fff', textStyle: { fontFamily: FONT }, grid, xAxis, yAxis, series, graphic };
}

export default function App() {
  const ref = useRef<HTMLDivElement>(null);
  useEffect(() => {
    if (!ref.current) return;
    const chart = echarts.init(ref.current, null, { renderer: 'svg' });
    chart.setOption(buildOption() as any);
    return () => chart.dispose();
  }, []);
  return <div ref={ref} style={{ position: 'absolute', left: 0, top: 0, width: 1898, height: 925, background: '#fff' }} />;
}
